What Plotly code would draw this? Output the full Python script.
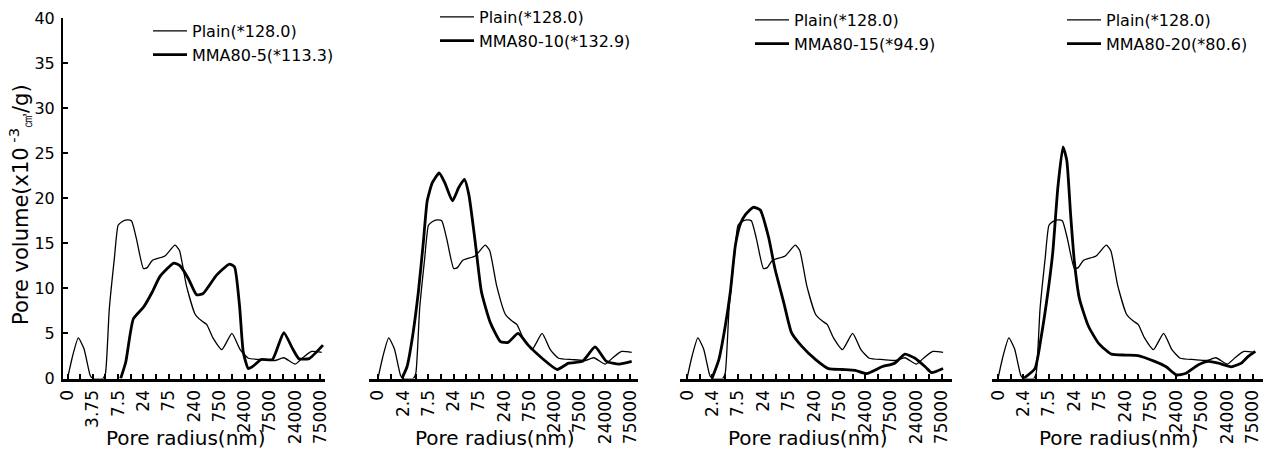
import plotly.graph_objects as go

# ---------------- data ----------------
TICK_LABELS_P1 = ["0", "3.75", "7.5", "24", "75", "240", "750", "2400", "7500", "24000", "75000"]
TICK_LABELS = ["0", "2.4", "7.5", "24", "75", "240", "750", "2400", "7500", "24000", "75000"]

# position index along the (equally spaced) pore-radius axis; labels sit on even indices
PLAIN_X = [0, 0.4, 0.85, 1.3, 1.8, 2.0, 2.8, 3.0, 3.3, 3.7, 4.0, 4.3, 4.7, 5.05, 5.45, 6.0, 6.3, 6.7,
           7.7, 8.5, 8.85, 9.4, 10.1, 10.6, 11.0, 11.5, 12.2, 13.0, 13.65, 14.3, 15.4, 16.4, 17.1,
           18.0, 18.6, 19.3, 20.1]
PLAIN_Y = [0, 2.5, 4.5, 3.3, 0.3, 0, 0, 0.6, 7.7, 13.3, 17.0, 17.4, 17.6, 17.5, 15.5, 12.2, 12.3, 13.1,
           13.6, 14.8, 14.2, 10.3, 7.1, 6.4, 6.0, 4.5, 3.2, 5.0, 3.2, 2.25, 2.1, 2.0, 2.3,
           1.6, 2.3, 3.0, 2.9]

MMA5_X = [4.2, 4.6, 5.2, 6.0, 6.7, 7.3, 8.4, 8.9, 9.55, 10.2, 10.7, 11.8, 12.8, 13.2, 13.6, 13.9,
          14.3, 14.7, 15.3, 16.2, 17.1, 17.8, 18.3, 19.1, 20.2]
MMA5_Y = [0, 1.8, 6.6, 7.9, 9.6, 11.3, 12.8, 12.5, 11.1, 9.3, 9.4, 11.5, 12.7, 12.4, 8.1, 2.9,
          1.1, 1.4, 2.1, 2.1, 5.1, 3.3, 2.2, 2.2, 3.7]

MMA10_X = [1.9, 2.3, 2.7, 3.2, 3.6, 3.9, 4.3, 4.85, 5.3, 5.9, 6.4, 6.85, 7.2, 7.7, 8.2, 8.9, 9.7,
           10.3, 11.1, 11.9, 13.0, 14.2, 15.1, 16.2, 17.2, 18.1, 19.1, 20.1]
MMA10_Y = [0, 1.3, 4.3, 9.6, 15.2, 19.7, 21.7, 22.8, 21.7, 19.7, 21.2, 22.1, 20.4, 15.2, 9.6, 6.2, 4.1,
           4.0, 5.0, 3.7, 2.25, 1.0, 1.7, 1.9, 3.5, 1.9, 1.6, 1.9]

MMA15_X = [1.96, 2.5, 3.0, 3.4, 3.8, 4.2, 4.6, 5.2, 5.75, 6.4, 6.9, 7.6, 8.2, 9.0, 10.1, 11.1, 12.2,
           13.2, 14.1, 15.3, 16.3, 17.1, 17.9, 18.7, 19.2, 20.1]
MMA15_Y = [0, 2.1, 5.8, 9.6, 14.8, 17.2, 18.2, 19.0, 18.7, 15.7, 12.2, 8.4, 5.1, 3.6, 2.1, 1.1, 1.0,
           0.9, 0.55, 1.3, 1.7, 2.7, 2.25, 1.3, 0.65, 1.1]

MMA20_X = [2.0, 2.9, 3.4, 3.95, 4.3, 4.7, 5.1, 5.4, 5.7, 6.0, 6.4, 7.1, 7.9, 8.9, 10.0, 11.0, 12.3,
           13.2, 14.0, 14.7, 15.7, 16.5, 17.3, 18.3, 19.1, 19.6, 20.2]
MMA20_Y = [0, 1.1, 4.7, 9.9, 14.0, 21.2, 25.7, 24.2, 18.2, 12.9, 8.8, 5.8, 3.9, 2.7, 2.6, 2.55, 1.9,
           1.3, 0.4, 0.55, 1.5, 1.9, 1.7, 1.3, 1.7, 2.4, 3.0]

PLAIN_NAME = "Plain(*128.0)"
MMA_NAMES = ["MMA80-5(*113.3)", "MMA80-10(*132.9)", "MMA80-15(*94.9)", "MMA80-20(*80.6)"]
MMA_X = [MMA5_X, MMA10_X, MMA15_X, MMA20_X]
MMA_Y = [MMA5_Y, MMA10_Y, MMA15_Y, MMA20_Y]

# ---------------- layout constants ----------------
W, H = 1271, 458
FONT = "DejaVu Sans"
# panel axis extents in pixels (left, right), index ranges, legend (left, top) in px
PANELS = [
    dict(px=(63, 325), rng=(-0.36, 20.36), labels=TICK_LABELS_P1, leg=(148, 14)),
    dict(px=(369, 638), rng=(-0.71, 20.6), labels=TICK_LABELS, leg=(435, 0)),
    dict(px=(680, 952), rng=(-0.55, 20.8), labels=TICK_LABELS, leg=(750, 3)),
    dict(px=(992, 1263), rng=(-0.47, 20.8), labels=TICK_LABELS, leg=(1062, 3)),
]
Y_BOT, Y_TOP = 378.5, 18.0

fig = go.Figure()
layout = dict(
    width=W, height=H, margin=dict(l=0, r=0, t=0, b=0, autoexpand=False),
    paper_bgcolor="white", plot_bgcolor="white",
    font=dict(family=FONT, color="black"),
    showlegend=True,
)

annotations = []
for i, p in enumerate(PANELS):
    n = i + 1
    xa = "xaxis" if n == 1 else f"xaxis{n}"
    ya = "yaxis" if n == 1 else f"yaxis{n}"
    xr = "x" if n == 1 else f"x{n}"
    yr = "y" if n == 1 else f"y{n}"
    lg = "legend" if n == 1 else f"legend{n}"

    fig.add_trace(go.Scatter(x=PLAIN_X, y=PLAIN_Y, mode="lines", name=PLAIN_NAME,
                             line=dict(color="black", width=1.3, shape="spline", smoothing=0.5),
                             xaxis=xr, yaxis=yr, legend=lg))
    fig.add_trace(go.Scatter(x=MMA_X[i], y=MMA_Y[i], mode="lines", name=MMA_NAMES[i],
                             line=dict(color="black", width=2.8, shape="spline", smoothing=0.5),
                             xaxis=xr, yaxis=yr, legend=lg))

    tickvals = list(range(0, 21))
    ticktext = [p["labels"][k // 2] if k % 2 == 0 else " " for k in tickvals]
    layout[xa] = dict(
        domain=[p["px"][0] / W, p["px"][1] / W], range=list(p["rng"]),
        anchor=yr, showgrid=False, zeroline=False,
        showline=True, linecolor="black", linewidth=2.5,
        tickmode="array", tickvals=tickvals, ticktext=ticktext,
        ticks="inside", ticklen=5, tickwidth=2, tickcolor="black",
        tickangle=-90, tickfont=dict(family=FONT, size=17, color="black"),
        ticklabelstandoff=2,
    )
    ydom = [(H - Y_BOT) / H, (H - Y_TOP) / H]
    if n == 1:
        layout[ya] = dict(
            domain=ydom, range=[0, 40], anchor=xr, showgrid=False, zeroline=False,
            showline=True, linecolor="black", linewidth=2,
            tickmode="linear", tick0=0, dtick=5,
            ticks="inside", ticklen=5, tickwidth=2, tickcolor="black",
            tickfont=dict(family=FONT, size=16, color="black"),
            ticklabelstandoff=3,
        )
    else:
        layout[ya] = dict(domain=ydom, range=[0, 40], anchor=xr, visible=False,
                          showgrid=False, zeroline=False)

    layout[lg] = dict(
        x=p["leg"][0] / W, y=(H - p["leg"][1]) / H, xanchor="left", yanchor="top",
        bgcolor="rgba(0,0,0,0)", borderwidth=0,
        font=dict(family=FONT, size=16, color="black"),
        itemwidth=34,
    )

    annotations.append(dict(
        text="Pore radius(nm)", xref=f"{xr} domain", yref="paper",
        x=0.47, y=(H - 438) / H, xanchor="center", yanchor="middle",
        showarrow=False, font=dict(family=FONT, size=20, color="black"),
    ))

annotations.append(dict(
    text="Pore volume(x10<sup> -3</sup><sub>㎤</sub>/g)", xref="paper", yref="paper",
    x=20 / W, y=(H - 205) / H, xanchor="center", yanchor="middle", textangle=-90,
    showarrow=False, font=dict(family=FONT, size=21, color="black"),
))
layout["annotations"] = annotations

fig.update_layout(**layout)
fig.write_html(
    "out.html",
    config={"responsive": False, "displayModeBar": False},
    post_script="document.body.style.margin='0px';document.body.style.overflow='hidden';",
)
